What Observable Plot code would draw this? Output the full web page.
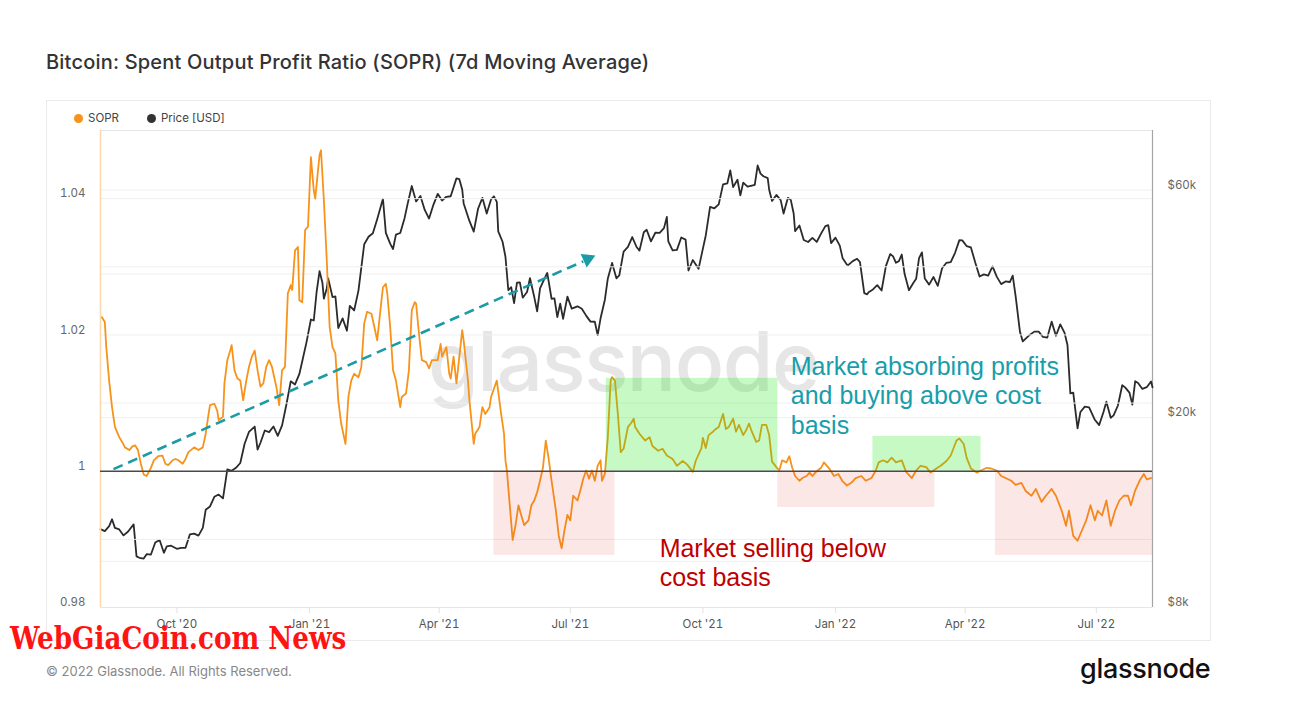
<!DOCTYPE html>
<html><head><meta charset="utf-8">
<script src="https://cdn.jsdelivr.net/npm/d3@7"></script>
<script src="https://cdn.jsdelivr.net/npm/@observablehq/plot@0.6"></script>
<style>
html,body{margin:0;padding:0;background:#fff;}
body{width:1290px;height:722px;position:relative;overflow:hidden;font-family:Inter,"Noto Sans",sans-serif;}
#title{position:absolute;left:46px;top:50px;font-size:20px;font-weight:500;color:#333;white-space:nowrap;letter-spacing:0.2px;}
#card{position:absolute;left:46px;top:100px;width:1165px;height:541px;border:1px solid #ebebeb;box-sizing:border-box;}
#watermark{position:absolute;left:428px;top:312px;font-size:82px;font-weight:500;color:#e6e6e6;letter-spacing:-1.5px;white-space:nowrap;}
.layer{position:absolute;left:0;top:0;}
#legend{position:absolute;left:74px;top:111px;font-size:11.5px;color:#444;display:flex;align-items:center;white-space:nowrap;}
#legend .dot{display:inline-block;width:9px;height:9px;border-radius:50%;margin-right:5px;}
#legend .item{display:flex;align-items:center;margin-right:28px;}
#footer{position:absolute;left:46px;top:663px;font-size:13px;color:#888;white-space:nowrap;}
#logo{position:absolute;left:1080px;top:652px;font-size:27px;font-weight:500;color:#111;letter-spacing:-0.3px;white-space:nowrap;}
#wgc{position:absolute;left:10px;top:620px;font-size:31px;font-weight:bold;color:#ff1414;font-family:"DejaVu Serif Condensed","DejaVu Serif",serif;white-space:nowrap;transform:scaleX(0.94);transform-origin:0 0;}
</style></head>
<body>
<div id="title">Bitcoin: Spent Output Profit Ratio (SOPR) (7d Moving Average)</div>
<div id="card"></div>
<div id="watermark">glassnode</div>
<div id="priceLayer" class="layer"></div>
<div id="soprLayer" class="layer"></div>
<div id="legend"><span class="item"><span class="dot" style="background:#f7931a"></span>SOPR</span><span class="item"><span class="dot" style="background:#333"></span>Price [USD]</span></div>
<div id="footer">© 2022 Glassnode. All Rights Reserved.</div>
<div id="logo">glassnode</div>
<div id="wgc">WebGiaCoin.com News</div>
<script>
const xDomain = ["2020-08-09", "2022-08-09"];
const xTicks = ["2020-10-01","2021-01-01","2021-04-01","2021-07-01","2021-10-01","2022-01-01","2022-04-01","2022-07-01"];
const soprTicks = [0.98, 1, 1.02, 1.04];
const soprGrid = [0.99, 1.01, 1.02, 1.03, 1.04];
const priceTicks = [8000, 20000, 60000];
const priceGrid = [10000, 20000, 40000, 60000];

const sopr = [
["2020-08-10",1.0226],["2020-08-12",1.0219],["2020-08-13",1.0182],["2020-08-15",1.0133],["2020-08-17",1.0094],
["2020-08-19",1.0065],["2020-08-22",1.0050],["2020-08-24",1.0043],["2020-08-26",1.0035],["2020-08-29",1.0031],
["2020-08-31",1.0036],["2020-09-02",1.0038],["2020-09-04",1.0031],["2020-09-06",1.0011],["2020-09-08",0.9995],
["2020-09-10",0.9993],["2020-09-13",1.0005],["2020-09-15",1.0016],["2020-09-18",1.0022],["2020-09-21",1.0023],
["2020-09-23",1.0011],["2020-09-25",1.0009],["2020-09-28",1.0016],["2020-09-30",1.0018],["2020-10-02",1.0016],
["2020-10-05",1.0011],["2020-10-07",1.0018],["2020-10-09",1.0028],["2020-10-13",1.0035],["2020-10-16",1.0031],
["2020-10-19",1.0035],["2020-10-21",1.0055],["2020-10-23",1.0084],["2020-10-24",1.0097],["2020-10-27",1.0099],
["2020-10-29",1.0089],["2020-10-30",1.0075],["2020-11-02",1.0080],["2020-11-03",1.0129],["2020-11-05",1.0163],
["2020-11-07",1.0177],["2020-11-08",1.0185],["2020-11-10",1.0148],["2020-11-12",1.0136],["2020-11-14",1.0133],
["2020-11-16",1.0104],["2020-11-18",1.0131],["2020-11-20",1.0153],["2020-11-22",1.0168],["2020-11-24",1.0177],
["2020-11-26",1.0148],["2020-11-28",1.0124],["2020-11-30",1.0129],["2020-12-02",1.0153],["2020-12-04",1.0163],
["2020-12-06",1.0153],["2020-12-09",1.0124],["2020-12-11",1.0097],["2020-12-13",1.0148],["2020-12-15",1.0153],
["2020-12-17",1.0261],["2020-12-19",1.0273],["2020-12-20",1.0266],["2020-12-22",1.0324],["2020-12-24",1.0329],
["2020-12-25",1.0251],["2020-12-27",1.0248],["2020-12-29",1.0354],["2020-12-31",1.0359],["2021-01-02",1.0461],
["2021-01-04",1.0412],["2021-01-05",1.0400],["2021-01-08",1.0464],["2021-01-09",1.0471],["2021-01-11",1.0398],
["2021-01-13",1.0310],["2021-01-15",1.0212],["2021-01-17",1.0182],["2021-01-19",1.0173],["2021-01-21",1.0104],
["2021-01-23",1.0070],["2021-01-26",1.0040],["2021-01-28",1.0109],["2021-01-30",1.0133],["2021-02-01",1.0143],
["2021-02-04",1.0138],["2021-02-06",1.0153],["2021-02-08",1.0217],["2021-02-10",1.0234],["2021-02-13",1.0231],
["2021-02-15",1.0212],["2021-02-17",1.0192],["2021-02-18",1.0212],["2021-02-20",1.0251],["2021-02-21",1.0270],
["2021-02-23",1.0275],["2021-02-24",1.0261],["2021-02-26",1.0212],["2021-02-28",1.0148],["2021-03-02",1.0133],
["2021-03-05",1.0094],["2021-03-06",1.0109],["2021-03-09",1.0114],["2021-03-11",1.0148],["2021-03-13",1.0236],
["2021-03-15",1.0248],["2021-03-16",1.0246],["2021-03-18",1.0202],["2021-03-20",1.0163],["2021-03-23",1.0160],
["2021-03-25",1.0151],["2021-03-27",1.0163],["2021-03-31",1.0163],["2021-04-02",1.0187],["2021-04-03",1.0168],
["2021-04-06",1.0182],["2021-04-08",1.0143],["2021-04-09",1.0136],["2021-04-11",1.0168],["2021-04-13",1.0129],
["2021-04-15",1.0168],["2021-04-17",1.0207],["2021-04-18",1.0192],["2021-04-21",1.0133],["2021-04-22",1.0104],
["2021-04-25",1.0040],["2021-04-26",1.0055],["2021-04-29",1.0065],["2021-05-01",1.0094],["2021-05-03",1.0084],
["2021-05-06",1.0094],["2021-05-07",1.0109],["2021-05-09",1.0121],["2021-05-11",1.0133],["2021-05-14",1.0084],
["2021-05-16",1.0055],["2021-05-17",1.0016],["2021-05-18",1.0001],["2021-05-22",0.9899],["2021-05-24",0.9921],
["2021-05-26",0.9950],["2021-05-28",0.9935],["2021-05-30",0.9921],["2021-06-02",0.9928],["2021-06-04",0.9950],
["2021-06-06",0.9957],["2021-06-08",0.9969],["2021-06-10",0.9986],["2021-06-12",1.0005],["2021-06-14",1.0045],
["2021-06-16",1.0018],["2021-06-18",0.9986],["2021-06-21",0.9942],["2021-06-23",0.9905],["2021-06-25",0.9887],
["2021-06-27",0.9914],["2021-06-29",0.9936],["2021-07-01",0.9928],["2021-07-03",0.9964],["2021-07-06",0.9957],
["2021-07-08",0.9972],["2021-07-10",0.9989],["2021-07-12",1.0001],["2021-07-14",0.9989],["2021-07-16",1.0001],
["2021-07-18",0.9986],["2021-07-20",1.0008],["2021-07-22",1.0016],["2021-07-23",0.9986],["2021-07-25",0.9996],
["2021-07-27",1.0049],["2021-07-29",1.0133],["2021-07-30",1.0138],["2021-08-01",1.0133],["2021-08-03",1.0084],
["2021-08-05",1.0028],["2021-08-07",1.0033],["2021-08-10",1.0065],["2021-08-12",1.0070],["2021-08-14",1.0077],
["2021-08-15",1.0065],["2021-08-18",1.0055],["2021-08-22",1.0045],["2021-08-25",1.0050],["2021-08-27",1.0037],
["2021-08-31",1.0030],["2021-09-03",1.0033],["2021-09-06",1.0023],["2021-09-10",1.0018],["2021-09-13",1.0008],
["2021-09-17",1.0015],["2021-09-20",1.0010],["2021-09-24",0.9999],["2021-09-26",1.0015],["2021-09-30",1.0034],
["2021-10-01",1.0049],["2021-10-03",1.0034],["2021-10-05",1.0053],["2021-10-08",1.0058],["2021-10-10",1.0062],
["2021-10-12",1.0065],["2021-10-15",1.0084],["2021-10-17",1.0062],["2021-10-19",1.0065],["2021-10-22",1.0077],
["2021-10-24",1.0058],["2021-10-26",1.0068],["2021-10-29",1.0053],["2021-10-31",1.0060],["2021-11-02",1.0070],
["2021-11-04",1.0058],["2021-11-07",1.0043],["2021-11-09",1.0045],["2021-11-11",1.0068],["2021-11-14",1.0068],
["2021-11-16",1.0053],["2021-11-18",1.0014],["2021-11-21",1.0006],["2021-11-23",1.0001],["2021-11-25",1.0016],
["2021-11-28",1.0013],["2021-11-30",1.0022],["2021-12-02",1.0005],["2021-12-04",0.9993],["2021-12-07",0.9986],
["2021-12-09",0.9990],["2021-12-12",0.9993],["2021-12-14",0.9998],["2021-12-16",0.9993],["2021-12-19",1.0000],
["2021-12-22",1.0005],["2021-12-24",1.0013],["2021-12-28",1.0003],["2021-12-31",0.9993],["2022-01-03",0.9996],
["2022-01-06",0.9985],["2022-01-09",0.9979],["2022-01-12",0.9983],["2022-01-15",0.9990],["2022-01-19",0.9993],
["2022-01-22",0.9986],["2022-01-26",0.9990],["2022-01-29",1.0001],["2022-01-31",1.0013],["2022-02-03",1.0016],
["2022-02-06",1.0013],["2022-02-09",1.0020],["2022-02-12",1.0013],["2022-02-16",1.0016],["2022-02-19",0.9999],
["2022-02-23",0.9990],["2022-02-26",1.0001],["2022-03-01",1.0008],["2022-03-05",1.0006],["2022-03-08",0.9998],
["2022-03-12",1.0004],["2022-03-15",1.0008],["2022-03-19",1.0015],["2022-03-22",1.0023],["2022-03-26",1.0045],
["2022-03-28",1.0048],["2022-03-31",1.0040],["2022-04-02",1.0020],["2022-04-05",1.0004],["2022-04-09",0.9998],
["2022-04-12",1.0001],["2022-04-16",1.0005],["2022-04-19",1.0004],["2022-04-23",1.0001],["2022-04-26",0.9993],
["2022-04-29",0.9990],["2022-05-03",0.9986],["2022-05-06",0.9980],["2022-05-10",0.9983],["2022-05-13",0.9971],
["2022-05-17",0.9964],["2022-05-20",0.9974],["2022-05-24",0.9955],["2022-05-27",0.9964],["2022-05-31",0.9974],
["2022-06-03",0.9964],["2022-06-07",0.9942],["2022-06-10",0.9920],["2022-06-12",0.9942],["2022-06-15",0.9905],
["2022-06-18",0.9898],["2022-06-21",0.9913],["2022-06-24",0.9928],["2022-06-27",0.9950],["2022-06-30",0.9928],
["2022-07-02",0.9942],["2022-07-05",0.9935],["2022-07-08",0.9957],["2022-07-11",0.9920],["2022-07-14",0.9942],
["2022-07-17",0.9957],["2022-07-20",0.9964],["2022-07-23",0.9964],["2022-07-25",0.9950],["2022-07-28",0.9972],
["2022-07-31",0.9986],["2022-08-03",0.9996],["2022-08-05",0.9988],["2022-08-08",0.9990]
];

const price = [
["2020-08-09",11680],["2020-08-12",11570],["2020-08-15",11850],["2020-08-17",12250],["2020-08-19",11750],
["2020-08-22",11660],["2020-08-25",11330],["2020-08-28",11530],["2020-09-01",11950],["2020-09-03",10240],
["2020-09-05",10170],["2020-09-08",10130],["2020-09-10",10350],["2020-09-13",10330],["2020-09-16",10950],
["2020-09-19",11080],["2020-09-22",10420],["2020-09-24",10740],["2020-09-27",10780],["2020-10-01",10620],
["2020-10-04",10670],["2020-10-07",10670],["2020-10-10",11380],["2020-10-13",11430],["2020-10-16",11320],
["2020-10-19",11750],["2020-10-21",12820],["2020-10-24",13030],["2020-10-27",13650],["2020-10-30",13800],
["2020-11-02",13550],["2020-11-05",15590],["2020-11-08",15480],["2020-11-11",15700],["2020-11-14",16070],
["2020-11-17",17640],["2020-11-20",18670],["2020-11-24",19160],["2020-11-26",17150],["2020-11-28",17720],
["2020-12-01",18800],["2020-12-04",18650],["2020-12-07",19170],["2020-12-10",18320],["2020-12-13",19270],
["2020-12-16",21310],["2020-12-19",23840],["2020-12-22",23480],["2020-12-25",24700],["2020-12-27",26270],
["2020-12-30",28840],["2021-01-02",32130],["2021-01-04",31970],["2021-01-06",36770],["2021-01-08",40580],
["2021-01-10",38360],["2021-01-11",35520],["2021-01-13",37320],["2021-01-14",39190],["2021-01-17",35810],
["2021-01-19",35910],["2021-01-21",30830],["2021-01-24",32300],["2021-01-27",30430],["2021-01-29",34320],
["2021-02-01",33560],["2021-02-04",36940],["2021-02-08",46200],["2021-02-11",47910],["2021-02-14",48720],
["2021-02-17",52150],["2021-02-21",57540],["2021-02-23",48820],["2021-02-26",46340],["2021-02-28",45140],
["2021-03-02",48380],["2021-03-05",48780],["2021-03-08",52400],["2021-03-10",55950],["2021-03-13",61190],
["2021-03-16",56800],["2021-03-19",58330],["2021-03-22",54530],["2021-03-25",52300],["2021-03-28",55880],
["2021-03-31",58920],["2021-04-03",57060],["2021-04-06",58090],["2021-04-09",58240],["2021-04-13",63500],
["2021-04-15",63230],["2021-04-17",60170],["2021-04-18",56250],["2021-04-22",51700],["2021-04-25",49100],
["2021-04-28",54840],["2021-05-01",57800],["2021-05-04",53580],["2021-05-07",57350],["2021-05-09",58230],
["2021-05-11",56700],["2021-05-12",49150],["2021-05-15",46760],["2021-05-17",43500],["2021-05-19",37000],
["2021-05-21",37540],["2021-05-23",34770],["2021-05-25",38400],["2021-05-27",38440],["2021-05-29",35690],
["2021-06-01",36680],["2021-06-03",39240],["2021-06-06",35800],["2021-06-08",33400],["2021-06-10",37340],
["2021-06-13",39100],["2021-06-15",40220],["2021-06-18",35510],["2021-06-20",35570],["2021-06-22",32510],
["2021-06-24",34680],["2021-06-26",32230],["2021-06-29",35870],["2021-07-02",33860],["2021-07-06",34240],
["2021-07-09",33850],["2021-07-12",32730],["2021-07-15",31800],["2021-07-18",31780],["2021-07-20",29790],
["2021-07-22",32310],["2021-07-25",35350],["2021-07-27",39100],["2021-07-30",42220],["2021-08-02",39200],
["2021-08-04",39750],["2021-08-07",44600],["2021-08-10",45600],["2021-08-13",47830],["2021-08-16",45590],
["2021-08-18",44800],["2021-08-21",48960],["2021-08-23",49550],["2021-08-26",46850],["2021-08-29",48830],
["2021-09-01",48800],["2021-09-04",49940],["2021-09-06",52700],["2021-09-07",46860],["2021-09-10",44850],
["2021-09-13",44960],["2021-09-16",47740],["2021-09-19",47240],["2021-09-21",40700],["2021-09-24",42810],
["2021-09-28",41030],["2021-09-30",43790],["2021-10-03",48200],["2021-10-06",55340],["2021-10-09",54960],
["2021-10-12",56000],["2021-10-15",61670],["2021-10-18",62000],["2021-10-20",65990],["2021-10-22",60860],
["2021-10-25",63080],["2021-10-27",58480],["2021-10-29",62210],["2021-11-01",61000],["2021-11-04",61330],
["2021-11-06",61550],["2021-11-08",67560],["2021-11-10",64950],["2021-11-12",64150],["2021-11-15",63560],
["2021-11-16",60100],["2021-11-18",56940],["2021-11-21",58620],["2021-11-24",57150],["2021-11-26",53570],
["2021-11-29",57810],["2021-12-01",57230],["2021-12-03",53600],["2021-12-04",49200],["2021-12-07",50580],
["2021-12-10",47150],["2021-12-13",46700],["2021-12-16",47640],["2021-12-19",46710],["2021-12-22",48620],
["2021-12-25",50430],["2021-12-27",50640],["2021-12-29",46460],["2022-01-01",47690],["2022-01-04",45900],
["2022-01-06",43160],["2022-01-09",41860],["2022-01-10",41820],["2022-01-13",42590],["2022-01-16",43080],
["2022-01-18",42370],["2022-01-21",36480],["2022-01-23",36270],["2022-01-24",36650],["2022-01-27",37150],
["2022-01-30",37920],["2022-02-02",36950],["2022-02-05",41570],["2022-02-08",44060],["2022-02-10",43570],
["2022-02-12",42250],["2022-02-14",42580],["2022-02-16",43960],["2022-02-18",40000],["2022-02-21",37000],
["2022-02-24",38300],["2022-02-26",39100],["2022-02-28",43190],["2022-03-02",44420],["2022-03-04",39150],
["2022-03-07",38020],["2022-03-10",39440],["2022-03-13",37790],["2022-03-16",41140],["2022-03-19",42240],
["2022-03-22",42360],["2022-03-25",44330],["2022-03-28",47130],["2022-03-30",47070],["2022-04-02",45800],
["2022-04-05",45500],["2022-04-08",42280],["2022-04-11",39530],["2022-04-14",39940],["2022-04-17",39720],
["2022-04-20",41500],["2022-04-23",39460],["2022-04-26",38110],["2022-04-29",38600],["2022-05-02",38500],
["2022-05-04",39700],["2022-05-06",36000],["2022-05-09",30300],["2022-05-11",28900],["2022-05-13",29300],
["2022-05-16",29860],["2022-05-19",30300],["2022-05-22",30290],["2022-05-25",29540],["2022-05-28",29440],
["2022-05-31",31800],["2022-06-03",29700],["2022-06-06",31370],["2022-06-09",30110],["2022-06-11",28400],
["2022-06-13",22490],["2022-06-15",22580],["2022-06-18",19000],["2022-06-20",20560],["2022-06-23",21100],
["2022-06-26",21030],["2022-06-30",19800],["2022-07-03",19300],["2022-07-06",20550],["2022-07-08",21600],
["2022-07-11",19990],["2022-07-13",20220],["2022-07-16",21210],["2022-07-19",23390],["2022-07-21",23150],
["2022-07-24",22580],["2022-07-26",21300],["2022-07-28",23850],["2022-07-30",23640],["2022-08-02",22980],
["2022-08-05",23170],["2022-08-08",23810],["2022-08-09",23160]
];

// annotation boxes
const boxStart = ["2021-05-09","2021-11-22","2022-04-22","2021-07-26","2022-01-27"];
const boxEnd   = ["2021-08-01","2022-03-11","2022-08-09","2021-11-22","2022-04-12"];
const boxLow   = [0.98764, 0.99468, 0.98764, 1.0, 1.0];
const boxHigh  = [1.0, 1.0, 1.0, 1.01363, 1.00511];
const boxKind  = ["sell","sell","sell","buy","buy"];

const arrowFrom = ["2020-08-18", 1.0003];
const arrowTo = ["2021-07-10", 1.0308];
const arrowHead = ["2021-07-13", 1.03115];

const noteBuy = ["2021-12-01", 1.0112, "Market absorbing profits\nand buying above cost\nbasis"];
const noteSell = ["2021-09-01", 0.98668, "Market selling below\ncost basis"];

const P = d => new Date(d + "T00:00:00Z");
const W = 1290, H = 722;
const common = {
  width: W, height: H, marginLeft: 100, marginRight: 138, marginTop: 130, marginBottom: 115,
  style: {background: "transparent", fontFamily: "Inter, 'Noto Sans', sans-serif", fontSize: "11.5px", overflow: "visible"}
};
const xScale = {type: "utc", domain: xDomain.map(P), axis: null};

const priceData = price.map(([d, v]) => ({date: P(d), v}));
const soprData = sopr.map(([d, v]) => ({date: P(d), v}));
const boxes = boxStart.map((s, i) => ({x1: P(s), x2: P(boxEnd[i]), y1: boxLow[i], y2: boxHigh[i], kind: boxKind[i]}));

const pricePlot = Plot.plot({
  ...common,
  x: xScale,
  y: {type: "log", domain: [8000, 80000], axis: null},
  marks: [
    Plot.ruleY(priceGrid, {stroke: "#efefef", strokeWidth: 1}),
    Plot.ruleX([P(xDomain[1])], {stroke: "#a5a5a5", strokeWidth: 1.2}),
    Plot.line(priceData, {x: "date", y: "v", stroke: "#2b2b2b", strokeWidth: 1.8, curve: "linear"}),
    Plot.axisY({anchor: "right", ticks: priceTicks, tickFormat: d => "$" + d / 1000 + "k", tickSize: 0, tickPadding: 15, color: "#666", dy: -5, label: null, fontSize: 11.5})
  ]
});
document.getElementById("priceLayer").appendChild(pricePlot);

const soprPlot = Plot.plot({
  ...common,
  x: xScale,
  y: {domain: [0.98, 1.05], axis: null},
  marks: [
    Plot.ruleY(soprGrid, {stroke: "#efefef", strokeWidth: 1}),
    Plot.ruleY([1.05, 0.98], {stroke: "#e6e6e6", strokeWidth: 1}),
    Plot.ruleX([P(xDomain[0])], {stroke: "#fdd8ad", strokeWidth: 1.6}),
    Plot.line(soprData, {x: "date", y: "v", stroke: "#f7931a", strokeWidth: 1.8}),
    Plot.rect(boxes, {x1: "x1", x2: "x2", y1: "y1", y2: "y2",
      fill: d => d.kind === "buy" ? "#1ee614" : "#e63c3c",
      fillOpacity: d => d.kind === "buy" ? 0.25 : 0.12}),
    Plot.ruleY([1], {stroke: "#4a4a4a", strokeWidth: 1.5}),
    Plot.link([{x1: P(arrowFrom[0]), y1: arrowFrom[1], x2: P(arrowTo[0]), y2: arrowTo[1]}],
      {x1: "x1", y1: "y1", x2: "x2", y2: "y2", stroke: "#1a9ba5", strokeWidth: 2.6, strokeDasharray: "10,6"}),
    Plot.dot([{x: P(arrowHead[0]), y: arrowHead[1]}], {x: "x", y: "y", symbol: "triangle", r: 5.5, fill: "#1a9ba5", stroke: "none", rotate: 66}),
    Plot.text([{x: P(noteBuy[0]), y: noteBuy[1], t: noteBuy[2]}], {x: "x", y: "y", text: "t", textAnchor: "start", lineAnchor: "middle", lineHeight: 1.17, fontSize: 25, fill: "#189dab", fontFamily: "'Liberation Sans', Arial, sans-serif"}),
    Plot.text([{x: P(noteSell[0]), y: noteSell[1], t: noteSell[2]}], {x: "x", y: "y", text: "t", textAnchor: "start", lineAnchor: "middle", lineHeight: 1.17, fontSize: 25, fill: "#c00000", fontFamily: "'Liberation Sans', Arial, sans-serif"}),
    Plot.axisY({anchor: "left", ticks: soprTicks, tickFormat: d => d === 1 ? "1" : d3.format(".2f")(d), tickSize: 0, tickPadding: 15, color: "#666", dy: -5, label: null, fontSize: 11.5}),
    Plot.axisX({ticks: xTicks.map(P), tickFormat: d3.utcFormat("%b '%y"), tickSize: 6, tickPadding: 6, stroke: "#e2e2e2", fill: "#555", label: null, fontSize: 11.5})
  ]
});
document.getElementById("soprLayer").appendChild(soprPlot);
</script>
</body></html>
